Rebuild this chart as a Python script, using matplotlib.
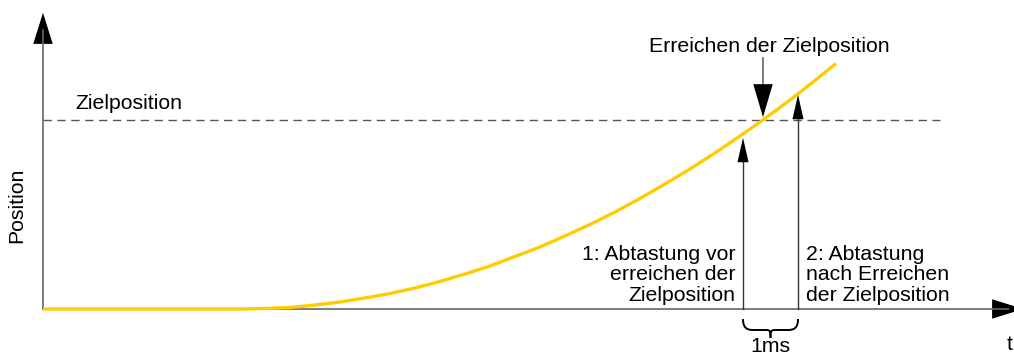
import numpy as np
import matplotlib
matplotlib.use("Agg")
import matplotlib.pyplot as plt
from matplotlib.path import Path
from matplotlib.patches import PathPatch, FancyArrowPatch

plt.rcParams['font.family'] = ['Liberation Sans', 'DejaVu Sans']

# curve (pixel coordinates, y grows downward)
curve_x = [43, 240, 265, 290, 315, 340, 365, 390, 415, 440, 465, 490, 515, 540,
           565, 590, 615, 640, 665, 690, 715, 740, 765, 790, 815, 836]
curve_y = [309, 309, 308.5, 307.5, 305, 302, 298, 293.5, 288, 281.5, 274, 266, 256.5, 247,
           236, 224.5, 212, 198.5, 184, 169, 153, 136, 118.5, 100, 80.5, 63.5]

target_y = 120
target_label = "Zielposition"
reach_x = 763
reach_label = "Erreichen der Zielposition"
sample_x = [743, 798]
sample_y = [135, 92]
sample_labels = ["1: Abtastung vor\nerreichen der\nZielposition",
                 "2: Abtastung\nnach Erreichen\nder Zielposition"]
interval_label = "1ms"
x_label = "t"
y_label = "Position"

fig = plt.figure(figsize=(10.14, 3.56), dpi=100)
ax = fig.add_axes([0, 0, 1, 1])
ax.set_xlim(0, 1014)
ax.set_ylim(356, 0)
ax.axis('off')

axis_col = '#666666'
fs = 15.3

# axes with arrow heads
ax.plot([43, 43], [309, 30], color=axis_col, lw=1.2)
ax.add_patch(FancyArrowPatch((43, 40), (43, 10), arrowstyle='-|>,head_length=1.6,head_width=0.5',
                             mutation_scale=14, color='black', lw=0))
ax.plot([43, 1008], [309, 309], color=axis_col, lw=1.2)
ax.add_patch(FancyArrowPatch((1003, 309), (1026, 309), arrowstyle='-|>,head_length=1.6,head_width=0.5',
                             mutation_scale=14, color='black', lw=0))

# target line
ax.plot([43, 940], [target_y, target_y], color='#555555', lw=1.0, ls=(0, (6, 4)))
ax.text(75, target_y - 11, target_label, fontsize=fs, ha='left', va='baseline')

# position curve
ax.plot(curve_x, curve_y, color='#FFCC00', lw=2.4, solid_capstyle='butt', zorder=3)

# reaching arrow
ax.plot([reach_x, reach_x], [58, 100], color=axis_col, lw=1.2)
ax.add_patch(FancyArrowPatch((reach_x, 96), (reach_x, target_y), arrowstyle='-|>,head_length=1.7,head_width=0.5',
                             mutation_scale=14, color='black', lw=0, zorder=4))
ax.text(reach_x + 6, 46, reach_label, fontsize=fs, ha='center', va='center')

# sampling arrows
for sx, sy in zip(sample_x, sample_y):
    ax.plot([sx, sx], [309, sy + 12], color='#333333', lw=1.0)
    ax.add_patch(FancyArrowPatch((sx, sy + 20), (sx, sy), arrowstyle='-|>,head_length=2.2,head_width=0.5',
                                 mutation_scale=8, color='black', lw=0, zorder=4))

ax.text(sample_x[0] - 8, 275, sample_labels[0], fontsize=fs, ha='right', va='center', linespacing=1.12)
ax.text(sample_x[1] + 8, 275, sample_labels[1], fontsize=fs, ha='left', va='center', linespacing=1.12)

# brace for the 1ms interval
x0, x1 = sample_x
xm = (x0 + x1) / 2
yt, yb, yr = 319, 330, 338
codes = [Path.MOVETO, Path.CURVE4, Path.CURVE4, Path.CURVE4,
         Path.LINETO, Path.CURVE4, Path.CURVE4, Path.CURVE4]
for xe, d in ((x0, 1), (x1, -1)):
    v = [(xe, yt), (xe, yb - 2), (xe + 4 * d, yb), (xe + 10 * d, yb),
         (xm - 4 * d, yb), (xm, yb), (xm, yb + 2), (xm, yr)]
    ax.add_patch(PathPatch(Path(v, codes), fc='none', ec='black', lw=1.4))
ax.text(xm, 347, interval_label, fontsize=fs, ha='center', va='center')

ax.text(1010, 345, x_label, fontsize=fs, ha='center', va='center')
ax.text(17, 205, y_label, fontsize=fs, ha='center', va='center', rotation=90)

fig.savefig("out.png", dpi=100)
